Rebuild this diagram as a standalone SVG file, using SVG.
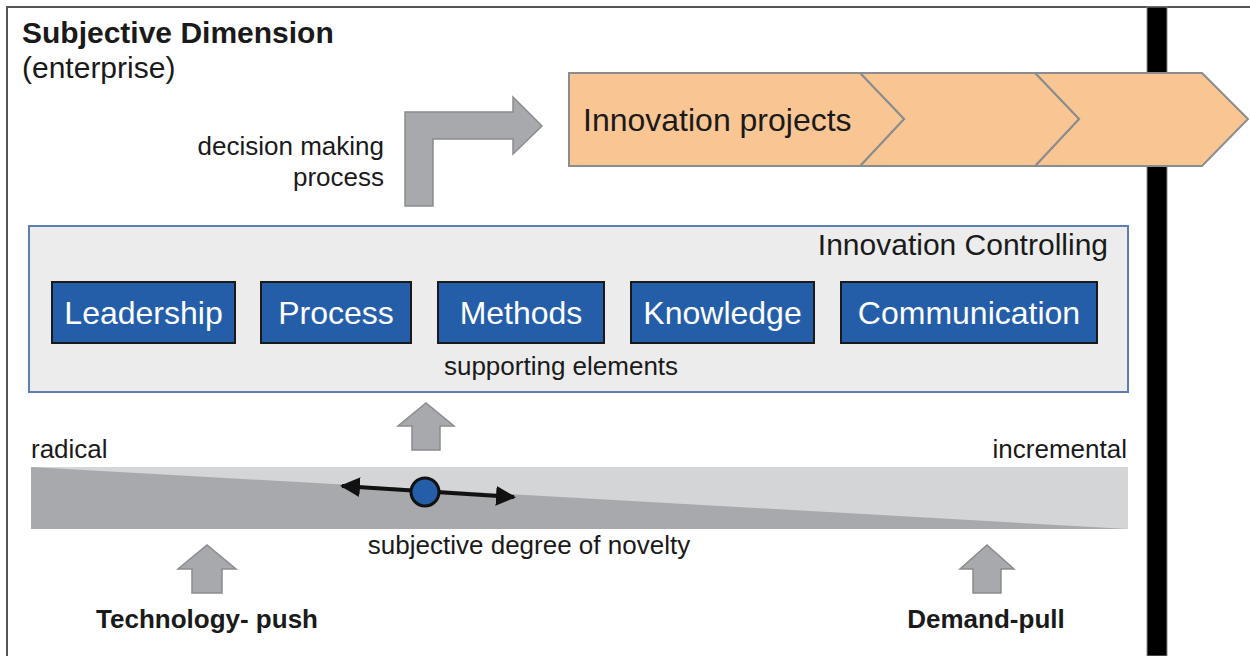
<svg xmlns="http://www.w3.org/2000/svg" width="1250" height="656" viewBox="0 0 1250 656">
<style>
text{font-family:"Liberation Sans",Arial,sans-serif;fill:#1a1a1a}
.b{font-weight:bold}
.box{fill:#245ea8;stroke:#1a1a1a;stroke-width:2}
.bt{fill:#ffffff;font-size:32px;text-anchor:middle}
.garrow{fill:#a7a9ac;stroke:#8a8c8e;stroke-width:1.5}
.chev{fill:#f9c593;stroke:#8a8c8e;stroke-width:2}
</style>
<defs>
<marker id="ah" viewBox="0 0 10 10" refX="9" refY="5" markerWidth="5" markerHeight="5" orient="auto-start-reverse">
<path d="M0,0 L10,5 L0,10 Z" fill="#111"/>
</marker>
</defs>
<rect x="0" y="0" width="1250" height="656" fill="#ffffff"/>
<g id="frame">
<path d="M7,656 L7,7 L1250,7" fill="none" stroke="#555" stroke-width="2"/>
<rect x="1147" y="7" width="20" height="649" fill="#000" stroke="#888" stroke-width="1"/>
</g>
<g id="title">
<text x="22" y="43" class="b" font-size="30">Subjective Dimension</text>
<text x="22" y="78" font-size="30">(enterprise)</text>
</g>
<g id="projects">
<path class="chev" d="M1035,73 L1202,73 L1248,119 L1202,166 L1035,166 L1079,119 Z"/>
<path class="chev" d="M860,73 L1035,73 L1079,119 L1035,166 L860,166 L904,119 Z"/>
<path class="chev" d="M569,73 L860,73 L904,119 L860,166 L569,166 Z"/>
<text x="583" y="131" font-size="32">Innovation projects</text>
</g>
<g id="controlling">
<rect x="29" y="226" width="1099" height="166" fill="#ebeceb" stroke="#5a7fb0" stroke-width="2"/>
<text x="1108" y="255" font-size="30" text-anchor="end">Innovation Controlling</text>
<text x="561" y="375" font-size="26" text-anchor="middle">supporting elements</text>
</g>
<g id="leadership"><rect class="box" x="52" y="282" width="183" height="61"/><text class="bt" x="143.5" y="324">Leadership</text></g>
<g id="process"><rect class="box" x="261" y="282" width="150" height="61"/><text class="bt" x="336" y="324">Process</text></g>
<g id="methods"><rect class="box" x="438" y="282" width="166" height="61"/><text class="bt" x="521" y="324">Methods</text></g>
<g id="knowledge"><rect class="box" x="631" y="282" width="183" height="61"/><text class="bt" x="722.5" y="324">Knowledge</text></g>
<g id="communication"><rect class="box" x="841" y="282" width="256" height="61"/><text class="bt" x="969" y="324">Communication</text></g>
<g id="novelty">
<rect x="31" y="467" width="1097" height="62" fill="#d4d5d7"/>
<path d="M31,467 L1128,529 L31,529 Z" fill="#a7a9ac"/>
<text x="31" y="458" font-size="26">radical</text>
<text x="1127" y="458" font-size="26" text-anchor="end">incremental</text>
<text x="529" y="554" font-size="26" text-anchor="middle">subjective degree of novelty</text>
</g>
<g id="connectors">
<path class="garrow" d="M405,206 L405,112 L513,112 L513,97 L542,126 L513,154 L513,139 L433,139 L433,206 Z"/>
<text x="384" y="155" font-size="26" text-anchor="end">decision making</text>
<text x="384" y="186" font-size="26" text-anchor="end">process</text>
<path class="garrow" d="M412,450 L412,426 L398,426 L426,403 L454,426 L440,426 L440,450 Z"/>
<path class="garrow" d="M192,593 L192,569 L178,569 L207,545 L236,569 L222,569 L222,593 Z"/>
<path class="garrow" d="M973,593 L973,569 L960,569 L987,545 L1014,569 L1001,569 L1001,593 Z"/>
<line x1="342" y1="486" x2="514" y2="497" stroke="#111" stroke-width="4" marker-start="url(#ah)" marker-end="url(#ah)"/>
<circle cx="425" cy="492" r="14" fill="#245ea8" stroke="#111" stroke-width="3"/>
</g>
<g id="labels">
<text x="207" y="628" class="b" font-size="26" text-anchor="middle">Technology- push</text>
<text x="986" y="628" class="b" font-size="26" text-anchor="middle">Demand-pull</text>
</g>
</svg>
